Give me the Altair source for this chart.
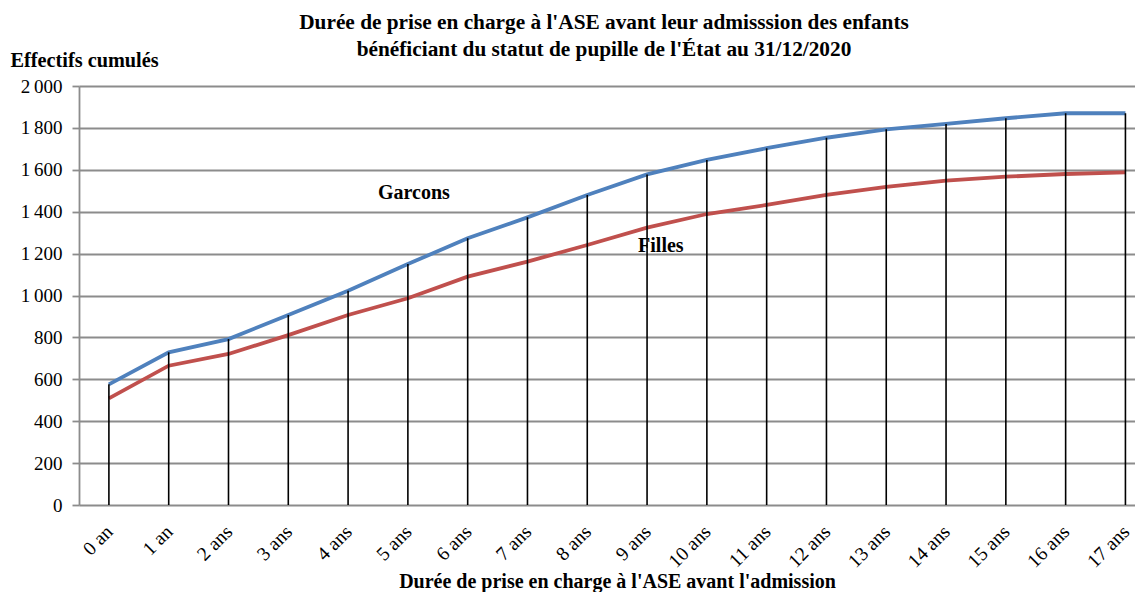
import json
import altair as alt
import pandas as pd

categories = ["0 an", "1 an", "2 ans", "3 ans", "4 ans", "5 ans", "6 ans", "7 ans", "8 ans",
              "9 ans", "10 ans", "11 ans", "12 ans", "13 ans", "14 ans", "15 ans", "16 ans", "17 ans"]
garcons = [576, 729, 792, 907, 1023, 1150, 1273, 1373, 1480, 1578, 1647, 1703, 1753, 1793, 1819, 1846, 1870, 1870]
filles = [509, 665, 721, 811, 907, 987, 1090, 1162, 1241, 1324, 1389, 1432, 1480, 1519, 1548, 1567, 1580, 1588]
y_ticks = [0, 200, 400, 600, 800, 1000, 1200, 1400, 1600, 1800, 2000]
annotations = ["Garcons", "Filles"]
annot_x = [4.5, 8.85]
annot_y = [1462, 1210]

FONT = "Liberation Serif"
BLUE = "#4F81BD"
RED = "#C0504D"
GRID = "#8C8C8C"

idx = list(range(len(categories)))
df = pd.DataFrame({"i": idx, "cat": categories, "garcons": garcons, "filles": filles})
long = pd.concat([
    pd.DataFrame({"i": idx, "v": garcons, "serie": "Garcons"}),
    pd.DataFrame({"i": idx, "v": filles, "serie": "Filles"}),
])
ann = pd.DataFrame({"x": annot_x, "y": annot_y, "t": annotations})

label_expr = json.dumps(categories) + "[datum.value]"

xscale = alt.Scale(domain=[-0.5, 17.16], nice=False, zero=False)
yscale = alt.Scale(domain=[0, 2000], nice=False)

x_axis = alt.Axis(
    values=idx, labelExpr=label_expr, labelAngle=-45, labelAlign="right", labelBaseline="top",
    labelPadding=17, labelOffset=-6, labelFont=FONT, labelFontSize=19.5, labelColor="black",
    domain=False, ticks=False, grid=False,
    title="Durée de prise en charge à l'ASE avant l'admission",
    titleFont=FONT, titleFontSize=20, titleFontWeight="bold", titleColor="black",
    titleX=538, titleY=82, titleAnchor="middle", titleAlign="center", titleBaseline="alphabetic",
)
y_axis = alt.Axis(
    values=y_ticks, labelExpr="replace(format(datum.value, ','), ',', '\u202f')",
    labelFont=FONT, labelFontSize=19, labelColor="black", labelPadding=10,
    grid=True, gridColor=GRID, gridWidth=1.8,
    ticks=True, tickSize=7, tickColor=GRID, tickWidth=1.8,
    domain=True, domainColor=GRID, domainWidth=1.8,
    title="Effectifs cumulés", titleFont=FONT, titleFontSize=20.3, titleFontWeight="bold",
    titleColor="black", titleAngle=0, titleX=-69, titleY=-20, titleAlign="left",
    titleBaseline="alphabetic",
)

base = alt.Chart(df)

drops = base.mark_rule(color="black", strokeWidth=1.6).encode(
    x=alt.X("i:Q", scale=xscale, axis=x_axis),
    y=alt.Y("garcons:Q", scale=yscale, axis=y_axis),
    y2=alt.datum(0),
)

lines = alt.Chart(long).mark_line(strokeWidth=3.8).encode(
    x=alt.X("i:Q", scale=xscale),
    y=alt.Y("v:Q", scale=yscale),
    color=alt.Color("serie:N", scale=alt.Scale(domain=["Garcons", "Filles"], range=[BLUE, RED]), legend=None),
)

texts = alt.Chart(ann).mark_text(font=FONT, fontSize=20, fontWeight="bold", align="left",
                                  baseline="alphabetic", color="black").encode(
    x=alt.X("x:Q", scale=xscale),
    y=alt.Y("y:Q", scale=yscale),
    text="t:N",
)

chart = alt.layer(lines, drops, texts).properties(
    width=1056, height=419,
    autosize=alt.AutoSizeParams(type="none"),
    padding={"left": 71, "top": 78, "right": 0, "bottom": 87},
    title=alt.TitleParams(
        text=["Durée de prise en charge à l'ASE avant leur admisssion des enfants",
              "bénéficiant du statut de pupille de l'État au 31/12/2020"],
        font=FONT, fontSize=21.3, fontWeight="bold", color="black", lineHeight=27,
        anchor="middle", frame="group", offset=-10, dx=-3,
    ),
).configure_view(stroke=None)

chart.save("out.html", embed_options={"renderer": "svg", "actions": False})
